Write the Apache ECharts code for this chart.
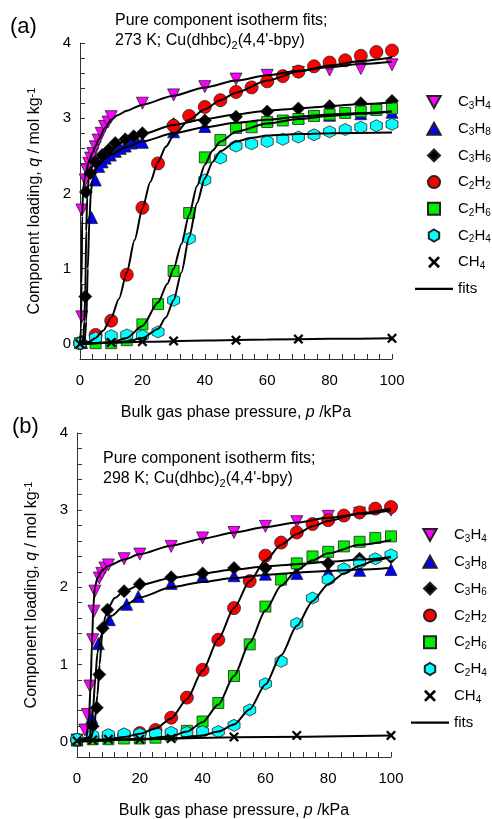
<!DOCTYPE html>
<html lang="en">
<head>
<meta charset="UTF-8">
<title>Isotherm fits</title>
<script src="https://cdn.jsdelivr.net/npm/echarts@6/dist/echarts.min.js"></script>
<style>
  html, body { margin: 0; padding: 0; background: #fff; }
  #chart { width: 492px; height: 819px; }
</style>
</head>
<body>
<div id="chart"></div>
<script>
// species in legend order
var names = ['C3H4', 'C3H8', 'C3H6', 'C2H2', 'C2H6', 'C2H4', 'CH4'];
var xTicks = [0, 20, 40, 60, 80, 100];
var yTicks = [0, 1, 2, 3, 4];

// (a) 273 K - measured points [p kPa, q mol/kg]
var a_C3H4 = [[0.6,0.36],[0.6,1.78],[1.7,2.18],[2.2,2.31],[2.8,2.40],[3.4,2.47],[4.1,2.53],[4.9,2.62],[5.8,2.71],[6.8,2.80],[7.9,2.89],[9,2.95],[10,3.02],[20,3.20],[30,3.31],[40,3.42],[50,3.52],[60,3.57],[70,3.61],[80,3.64],[90,3.66],[100,3.71]];
var a_C3H8 = [[0.5,0.02],[3.7,1.68],[4.9,2.18],[6,2.36],[7.1,2.42],[8.1,2.47],[9.7,2.51],[11.3,2.56],[12.9,2.60],[14.5,2.63],[16.4,2.67],[18.3,2.69],[20,2.68],[30,2.82],[40,2.89],[50,2.93],[60,2.98],[70,3.01],[80,3.04],[90,3.06],[100,3.08]];
var a_C3H6 = [[0.5,0.03],[1.7,0.63],[1.9,2.02],[3.3,2.27],[4.9,2.42],[7.1,2.51],[9.2,2.58],[11.3,2.67],[14.5,2.72],[17.2,2.76],[20,2.80],[30,2.92],[40,2.97],[50,3.02],[60,3.09],[70,3.13],[80,3.16],[90,3.20],[100,3.23]];
var a_C2H2 = [[0,0.01],[5,0.12],[10,0.31],[15,0.92],[20,1.81],[25,2.40],[30,2.90],[35,3.03],[40,3.15],[45,3.24],[50,3.35],[55,3.41],[60,3.49],[65,3.56],[70,3.62],[75,3.69],[80,3.74],[85,3.77],[90,3.83],[95,3.88],[100,3.90]];
var a_C2H6 = [[0,0.01],[5,0.01],[10,0.01],[15,0.05],[20,0.26],[25,0.53],[30,0.97],[35,1.74],[40,2.48],[45,2.71],[50,2.87],[55,2.88],[60,2.95],[65,2.97],[70,2.99],[75,3.03],[80,3.05],[85,3.07],[90,3.09],[95,3.11],[100,3.13]];
var a_C2H4 = [[0,0.01],[5,0.08],[10,0.11],[15,0.12],[20,0.11],[25,0.16],[30,0.58],[35,1.40],[40,2.18],[45,2.47],[50,2.63],[55,2.66],[60,2.69],[65,2.72],[70,2.75],[75,2.78],[80,2.82],[85,2.85],[90,2.88],[95,2.90],[100,2.92]];
var a_CH4 = [[0,0.0],[10,0.02],[20,0.03],[30,0.04],[50,0.05],[70,0.065],[100,0.075]];

// (a) fit curves
var fa_C3H4 = [[0,0],[0.3,0.2],[0.5,0.8],[0.7,1.7],[1,2.05],[1.5,2.2],[2,2.3],[3,2.44],[4,2.54],[5,2.63],[6,2.72],[8,2.87],[10,2.98],[12,3.04],[15,3.1],[20,3.18],[30,3.3],[40,3.41],[50,3.5],[60,3.57],[70,3.63],[80,3.68],[90,3.72],[100,3.75]];
var fa_C3H8 = [[0,0],[1.5,0.03],[2,0.3],[2.5,1.0],[3,1.65],[3.5,2.02],[4,2.18],[5,2.31],[6,2.38],[8,2.46],[10,2.52],[15,2.62],[20,2.69],[30,2.8],[40,2.88],[50,2.94],[60,2.98],[70,3.02],[80,3.05],[90,3.07],[100,3.09]];
var fa_C3H6 = [[0,0],[1,0.05],[1.4,0.3],[1.7,0.7],[2,1.5],[2.3,1.95],[2.8,2.2],[3.5,2.33],[5,2.44],[7,2.52],[10,2.6],[15,2.71],[20,2.79],[30,2.91],[40,2.99],[50,3.05],[60,3.1],[70,3.13],[80,3.16],[90,3.19],[100,3.21]];
var fa_C2H2 = [[0,0],[3,0.03],[5,0.08],[7.5,0.18],[10,0.35],[12.5,0.6],[15,0.95],[17.5,1.38],[20,1.8],[22.5,2.15],[25,2.42],[27.5,2.62],[30,2.77],[35,2.98],[40,3.12],[45,3.24],[50,3.34],[60,3.5],[70,3.62],[80,3.7],[90,3.76],[100,3.81]];
var fa_C2H6 = [[0,0],[10,0.02],[15,0.08],[20,0.24],[25,0.55],[28,0.8],[30,1.0],[32.5,1.33],[35,1.72],[37.5,2.1],[40,2.38],[42.5,2.57],[45,2.69],[50,2.82],[60,2.93],[70,2.99],[80,3.03],[90,3.06],[100,3.09]];
var fa_C2H4 = [[0,0],[15,0.03],[20,0.08],[25,0.2],[27.5,0.35],[30,0.58],[32.5,0.95],[35,1.42],[37.5,1.87],[40,2.2],[42.5,2.42],[45,2.56],[50,2.69],[55,2.74],[60,2.77],[70,2.79],[80,2.8],[100,2.81]];
var fa_CH4 = [[0,0],[10,0.015],[20,0.03],[40,0.045],[60,0.058],[80,0.068],[100,0.075]];

// (b) 298 K - measured points
var b_C3H4 = [[0,0.02],[2.5,0.15],[3.3,0.35],[4.1,0.72],[5.0,1.32],[5.4,1.69],[5.7,1.95],[7.1,2.12],[7.9,2.18],[8.9,2.25],[10,2.29],[15,2.37],[20,2.43],[30,2.53],[40,2.64],[50,2.71],[60,2.79],[70,2.85],[80,2.92],[90,2.96],[100,3.0]];
var b_C3H8 = [[0,0.02],[4.7,0.31],[6.8,1.27],[10.3,1.58],[15.8,1.78],[19.5,1.88],[30,2.05],[40,2.14],[50,2.15],[60,2.17],[70,2.18],[80,2.2],[90,2.22],[100,2.23]];
var b_C3H6 = [[0,0.02],[5,0.2],[6.3,0.44],[7.1,0.87],[8.2,1.47],[9.7,1.71],[15,1.95],[20,2.04],[30,2.13],[40,2.18],[50,2.25],[60,2.25],[70,2.28],[80,2.31],[90,2.37],[100,2.39]];
var b_C2H2 = [[0,0.02],[5,0.05],[10,0.07],[15,0.08],[20,0.11],[25,0.15],[30,0.31],[35,0.57],[40,0.93],[45,1.32],[50,1.73],[55,2.08],[60,2.41],[65,2.58],[70,2.71],[75,2.82],[80,2.87],[85,2.93],[90,2.97],[95,3.02],[100,3.04]];
var b_C2H6 = [[0,0.02],[5,0.03],[10,0.03],[15,0.04],[20,0.04],[25,0.05],[30,0.08],[35,0.14],[40,0.26],[45,0.5],[50,0.85],[55,1.26],[60,1.75],[65,2.1],[70,2.31],[75,2.40],[80,2.46],[85,2.53],[90,2.59],[95,2.64],[100,2.66]];
var b_C2H4 = [[0,0.03],[5,0.08],[10,0.09],[15,0.1],[20,0.1],[25,0.11],[30,0.12],[35,0.12],[40,0.13],[45,0.13],[50,0.21],[55,0.41],[60,0.75],[65,1.04],[70,1.53],[75,1.86],[80,2.1],[85,2.24],[90,2.32],[95,2.37],[100,2.42]];
var b_CH4 = [[0,0.01],[5,0.02],[10,0.03],[20,0.03],[30,0.04],[50,0.06],[70,0.08],[100,0.08]];

// (b) fit curves
var fb_C3H4 = [[0,0],[3,0.05],[3.8,0.3],[4.3,0.7],[4.8,1.3],[5.2,1.75],[5.7,2.0],[6.5,2.12],[8,2.22],[10,2.28],[15,2.36],[20,2.43],[30,2.54],[40,2.63],[50,2.71],[60,2.78],[70,2.84],[80,2.9],[90,2.95],[100,3.0]];
var fb_C3H8 = [[0,0],[4,0.05],[5,0.35],[5.8,0.8],[6.5,1.15],[7.5,1.36],[9,1.52],[11,1.63],[15,1.76],[20,1.87],[30,2.0],[40,2.07],[50,2.12],[60,2.16],[70,2.19],[80,2.21],[90,2.23],[100,2.25]];
var fb_C3H6 = [[0,0],[4.5,0.05],[5.5,0.2],[6.5,0.6],[7.2,1.0],[8,1.38],[9,1.62],[10,1.74],[12,1.86],[15,1.95],[20,2.03],[30,2.12],[40,2.18],[50,2.23],[60,2.27],[70,2.3],[80,2.33],[90,2.36],[100,2.39]];
var fb_C2H2 = [[0,0],[10,0.03],[15,0.06],[20,0.1],[25,0.17],[30,0.3],[35,0.55],[40,0.92],[45,1.33],[50,1.73],[55,2.08],[60,2.35],[65,2.55],[70,2.69],[75,2.79],[80,2.86],[90,2.96],[100,3.02]];
var fb_C2H6 = [[0,0],[20,0.03],[30,0.07],[35,0.13],[40,0.25],[45,0.48],[50,0.85],[55,1.28],[60,1.7],[65,2.02],[70,2.22],[75,2.35],[80,2.44],[90,2.55],[100,2.61]];
var fb_C2H4 = [[0,0],[30,0.04],[40,0.08],[45,0.13],[50,0.22],[55,0.42],[60,0.74],[65,1.12],[70,1.5],[75,1.82],[80,2.04],[85,2.18],[90,2.28],[95,2.35],[100,2.4]];
var fb_CH4 = [[0,0],[20,0.03],[50,0.055],[100,0.08]];

var colors = ['#ff00ff', '#0000ff', '#000000', '#ff0000', '#00ee00', '#00ffff', '#000000'];
var symbols = [
    'path://M0,0L10,0L5,9Z',
    'path://M5,0L10,9L0,9Z',
    'path://M5,0L10,5L5,10L0,5Z',
    'circle',
    'path://M0,0H10V10H0Z',
    'path://M5,0L9.33,2.5L9.33,7.5L5,10L0.67,7.5L0.67,2.5Z',
    'path://M0,1.6L1.6,0L5,3.4L8.4,0L10,1.6L6.6,5L10,8.4L8.4,10L5,6.6L1.6,10L0,8.4L3.4,5Z'
];
var sizes = [12, 12, 13, 13, 11, 12, 10];

var pointsA = [a_C3H4, a_C3H8, a_C3H6, a_C2H2, a_C2H6, a_C2H4, a_CH4];
var pointsB = [b_C3H4, b_C3H8, b_C3H6, b_C2H2, b_C2H6, b_C2H4, b_CH4];
var fitsA = [fa_C3H4, fa_C3H8, fa_C3H6, fa_C2H2, fa_C2H6, fa_C2H4, fa_CH4];
var fitsB = [fb_C3H4, fb_C3H8, fb_C3H6, fb_C2H2, fb_C2H6, fb_C2H4, fb_CH4];

var FONT = '"Liberation Sans", Arial, sans-serif';

// C3H4 -> rich text with subscripts
function chem(name) {
    var s = '';
    for (var i = 0; i < name.length; i++) {
        var c = name.charAt(i);
        s += (c >= '0' && c <= '9') ? '{s|' + c + '}' : '{n|' + c + '}';
    }
    return s;
}
var richText = {
    n: { fontSize: 16, lineHeight: 18, fontFamily: FONT, color: '#000' },
    s: { fontSize: 11, lineHeight: 7, verticalAlign: 'bottom', fontFamily: FONT, color: '#000' },
    i: { fontSize: 16, lineHeight: 18, fontStyle: 'italic', fontFamily: FONT, color: '#000' },
    sup: { fontSize: 11, lineHeight: 7, verticalAlign: 'top', fontFamily: FONT, color: '#000' }
};
var legendRich = {
    n: { fontSize: 15, lineHeight: 18, fontFamily: FONT, color: '#000' },
    s: { fontSize: 10, lineHeight: 7, verticalAlign: 'bottom', fontFamily: FONT, color: '#000' }
};

var series = [];
function addPanel(idx, pts, fits) {
    for (var i = 0; i < names.length; i++) {
        series.push({
            name: names[i],
            type: 'scatter',
            xAxisIndex: idx,
            yAxisIndex: idx,
            data: pts[i],
            symbol: symbols[i],
            symbolSize: sizes[i],
            z: 3,
            itemStyle: {
                color: colors[i],
                borderColor: i === 6 ? 'transparent' : '#222',
                borderWidth: 0.8,
                opacity: 1
            }
        });
    }
    for (var j = 0; j < names.length; j++) {
        series.push({
            name: 'fits',
            type: 'line',
            xAxisIndex: idx,
            yAxisIndex: idx,
            data: fits[j],
            showSymbol: false,
            smooth: 0.25,
            smoothMonotone: 'x',
            z: 4,
            itemStyle: { color: '#000' },
            lineStyle: { color: '#000', width: 2 }
        });
    }
}
addPanel(0, pointsA, fitsA);
addPanel(1, pointsB, fitsB);

function legendData() {
    var d = [];
    for (var i = 0; i < names.length; i++) d.push({ name: names[i], icon: symbols[i] });
    d.push({ name: 'fits', icon: 'path://M0,0H40V2.3H0Z' });
    return d;
}
function makeLegend(left, top, gap) {
    return {
        orient: 'vertical',
        left: left,
        top: top,
        itemWidth: 38,
        itemHeight: 12,
        itemGap: gap,
        selectedMode: false,
        data: legendData(),
        formatter: function (name) { return name === 'fits' ? '{n|fits}' : chem(name); },
        textStyle: { fontSize: 15, lineHeight: 18, fontFamily: FONT, color: '#000', rich: legendRich }
    };
}

function xAxisFor(idx) {
    return {
        gridIndex: idx,
        type: 'value',
        min: 0, max: 100, interval: 4,
        name: '{n|Bulk gas phase pressure, }{i|p}{n| /kPa}',
        nameLocation: 'middle',
        nameGap: 45,
        nameTextStyle: { rich: richText },
        axisLine: { onZero: false, lineStyle: { color: '#333', width: 1 } },
        axisTick: { inside: true, length: 5, lineStyle: { color: '#333' } },
        axisLabel: {
            margin: 14, fontSize: 15, fontFamily: FONT, color: '#000',
            formatter: function (v) { return xTicks.indexOf(Math.round(v)) >= 0 && Math.abs(v - Math.round(v)) < 1e-6 ? String(Math.round(v)) : ''; }
        },
        splitLine: { show: false }
    };
}
function yAxisFor(idx) {
    return {
        gridIndex: idx,
        type: 'value',
        min: -0.2, max: 4, interval: 0.2,
        name: '{n|Component loading, }{i|q}{n| / mol kg}{sup|-1}',
        nameLocation: 'middle',
        nameGap: 36,
        nameTextStyle: { rich: richText },
        axisLine: { lineStyle: { color: '#333', width: 1 } },
        axisTick: { inside: true, length: 5, lineStyle: { color: '#333' } },
        axisLabel: {
            margin: 9, fontSize: 15, fontFamily: FONT, color: '#000',
            formatter: function (v) {
                var r = Math.round(v);
                return (Math.abs(v - r) < 1e-6 && yTicks.indexOf(r) >= 0) ? String(r) : '';
            }
        },
        splitLine: { show: false }
    };
}

var titleRich = {
    n: { fontSize: 16, lineHeight: 20, fontWeight: 'normal', fontFamily: FONT, color: '#000' },
    s: { fontSize: 11, lineHeight: 8, verticalAlign: 'bottom', fontWeight: 'normal', fontFamily: FONT, color: '#000' }
};

var option = {
    animation: false,
    backgroundColor: '#fff',
    title: [
        { text: '(a)', left: 5, top: 11, textStyle: { fontSize: 22, fontWeight: 'normal', fontFamily: FONT, color: '#000' } },
        { text: '(b)', left: 7, top: 411, textStyle: { fontSize: 22, fontWeight: 'normal', fontFamily: FONT, color: '#000' } },
        { text: '{n|Pure component isotherm fits;}\n{n|273 K; Cu(dhbc)}{s|2}{n|(4,4\'-bpy)}', left: 110, top: 6,
          textStyle: { fontWeight: 'normal', rich: titleRich } },
        { text: '{n|Pure component isotherm fits;}\n{n|298 K; Cu(dhbc)}{s|2}{n|(4,4\'-bpy)}', left: 98, top: 444,
          textStyle: { fontWeight: 'normal', rich: titleRich } }
    ],
    grid: [
        { left: 80, top: 43, width: 312, height: 316, outerBoundsMode: 'none' },
        { left: 77, top: 433, width: 314, height: 324, outerBoundsMode: 'none' }
    ],
    legend: [makeLegend(410, 88, 8.7), makeLegend(406, 521, 8.8)],
    xAxis: [xAxisFor(0), xAxisFor(1)],
    yAxis: [yAxisFor(0), yAxisFor(1)],
    series: series
};

var myChart = echarts.init(document.getElementById('chart'), null, { renderer: 'canvas' });
myChart.setOption(option);
</script>
</body>
</html>
